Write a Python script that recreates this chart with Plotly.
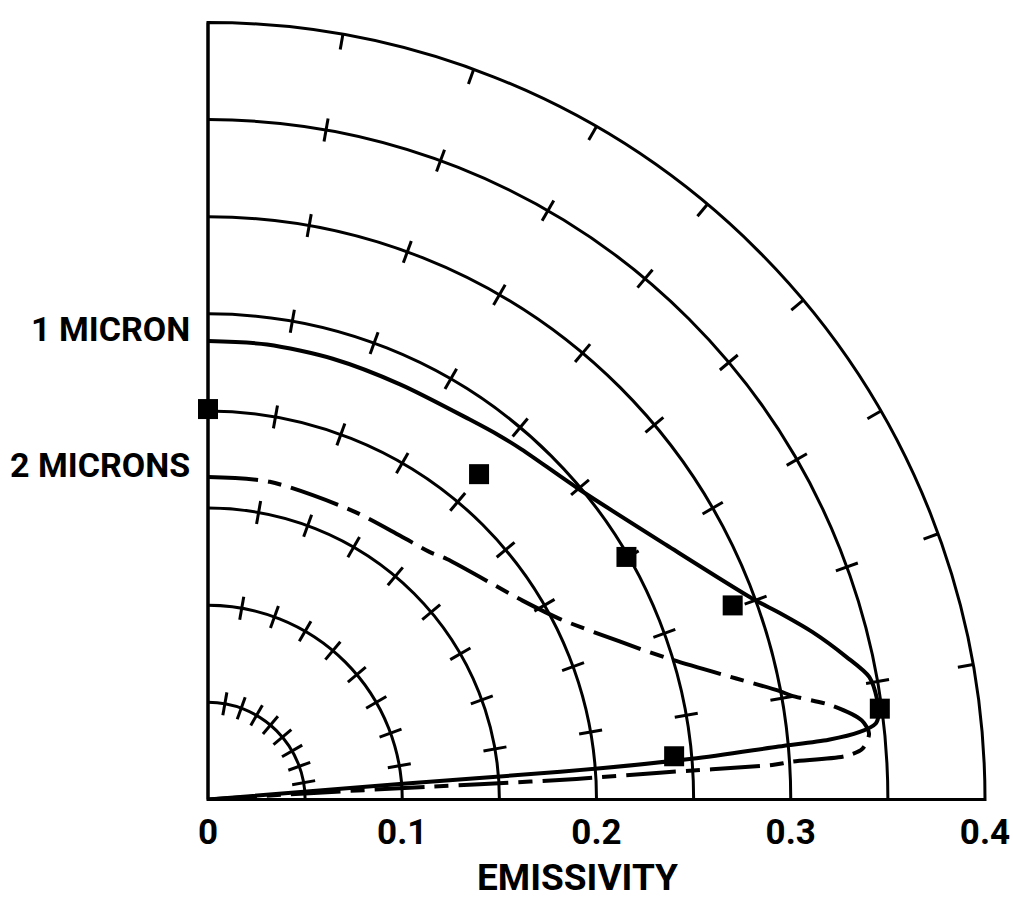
import plotly.graph_objects as go

# ---------------- data ----------------
arc_radii = [0.05, 0.10, 0.15, 0.20, 0.25, 0.30, 0.35]
outer_radius = 0.40
tick_angles = [10, 20, 30, 40, 50, 60, 70, 80]
radial_tickvals = [0, 0.05, 0.10, 0.15, 0.20, 0.25, 0.30, 0.35, 0.40]
radial_ticktext = ["0", "", "0.1", "", "0.2", "", "0.3", "", "0.4"]

# 1 micron (solid)
theta_1um = [90, 82.6, 74.2, 65.1, 55.5, 51.3, 48.1, 39.9, 29.0, 20.2, 18.1,
             15.5, 12.6, 10.5, 8.5, 7.2, 6.5, 5.9, 5.5, 5.3, 4.8, 4.5, 4.6, 0]
r_1um = [0.236, 0.2362, 0.2358, 0.2355, 0.2375, 0.240, 0.242, 0.249, 0.270,
         0.299, 0.3094, 0.3228, 0.3367, 0.3462, 0.3483, 0.348, 0.346, 0.337,
         0.321, 0.295, 0.250, 0.182, 0.099, 0.0]

# 2 microns (dash-dot)
theta_2um = [90, 79, 63.4, 54, 48.2, 45.2, 32.3, 27.2, 21, 17, 12.9,
             10.8, 10.1, 8.55, 6.9, 5.7, 4.45, 3.9, 3.7, 3.5, 3.4, 3.2, 3.2,
             3.3, 3.6, 0]
r_2um = [0.166, 0.1666, 0.1662, 0.168, 0.171, 0.1745, 0.1916, 0.2035,
         0.227, 0.248, 0.279, 0.299, 0.305, 0.325, 0.339, 0.342, 0.338, 0.329,
         0.301, 0.291, 0.233, 0.19, 0.14, 0.114, 0.05, 0.0]

# measured points (squares)
theta_meas = [90, 50.2, 30.1, 20.3, 7.7, 5.3]
r_meas = [0.201, 0.218, 0.249, 0.288, 0.349, 0.241]

FONT = "Roboto"

fig = go.Figure()

# tick marks on the arcs (radial segments every 10 degrees)
tk_r, tk_t = [], []
for rad in arc_radii:
    for a in tick_angles:
        tk_r += [rad - 0.006, rad + 0.006, None]
        tk_t += [a, a, None]
for a in tick_angles:
    tk_r += [outer_radius - 0.008, outer_radius, None]
    tk_t += [a, a, None]
fig.add_trace(go.Scatterpolar(r=tk_r, theta=tk_t, mode="lines",
                              line=dict(color="black", width=3),
                              hoverinfo="skip", showlegend=False))

fig.add_trace(go.Scatterpolar(r=r_1um, theta=theta_1um, mode="lines",
                              name="1 MICRON",
                              line=dict(color="black", width=4,
                                        shape="spline", smoothing=0.8),
                              showlegend=False))
fig.add_trace(go.Scatterpolar(r=r_2um, theta=theta_2um, mode="lines",
                              name="2 MICRONS",
                              line=dict(color="black", width=4,
                                        shape="spline", smoothing=0.8,
                                        dash="50px,10px,14px,10px"),
                              showlegend=False))
fig.add_trace(go.Scatterpolar(r=r_meas, theta=theta_meas, mode="markers",
                              name="measured",
                              marker=dict(symbol="square", size=20,
                                          color="black"),
                              showlegend=False))

fig.update_layout(
    width=1013, height=898,
    margin=dict(l=208, r=28, t=22, b=98),
    paper_bgcolor="white",
    font=dict(family=FONT, color="black"),
    showlegend=False,
    polar=dict(
        sector=[0, 90],
        bgcolor="white",
        domain=dict(x=[0, 1], y=[0, 1]),
        radialaxis=dict(
            range=[0, outer_radius], angle=0, side="clockwise",
            tickmode="array", tickvals=radial_tickvals,
            ticktext=radial_ticktext,
            showgrid=True, gridcolor="black", gridwidth=3,
            showline=True, linecolor="black", linewidth=3,
            ticks="outside", ticklen=1, tickcolor="rgba(0,0,0,0)",
            tickangle=0,
            tickfont=dict(family=FONT, size=35, color="black",
                          weight="bold"),
        ),
        angularaxis=dict(
            direction="counterclockwise", rotation=0,
            tickmode="array", tickvals=[90],
            showgrid=True, gridcolor="black", gridwidth=3,
            showline=True, linecolor="black", linewidth=3,
            showticklabels=False, ticks="",
        ),
    ),
    annotations=[
        dict(text="1 MICRON", xref="paper", yref="paper",
             x=-0.02, y=0.605, xanchor="right", yanchor="middle",
             showarrow=False,
             font=dict(family=FONT, size=34, color="black", weight="bold")),
        dict(text="2 MICRONS", xref="paper", yref="paper",
             x=-0.02, y=0.43, xanchor="right", yanchor="middle",
             showarrow=False,
             font=dict(family=FONT, size=34, color="black", weight="bold")),
        dict(text="EMISSIVITY", xref="paper", yref="paper",
             x=0.476, y=-0.1, xanchor="center", yanchor="middle",
             showarrow=False,
             font=dict(family=FONT, size=37, color="black", weight="bold")),
    ],
)

fig.write_html("out.html")
